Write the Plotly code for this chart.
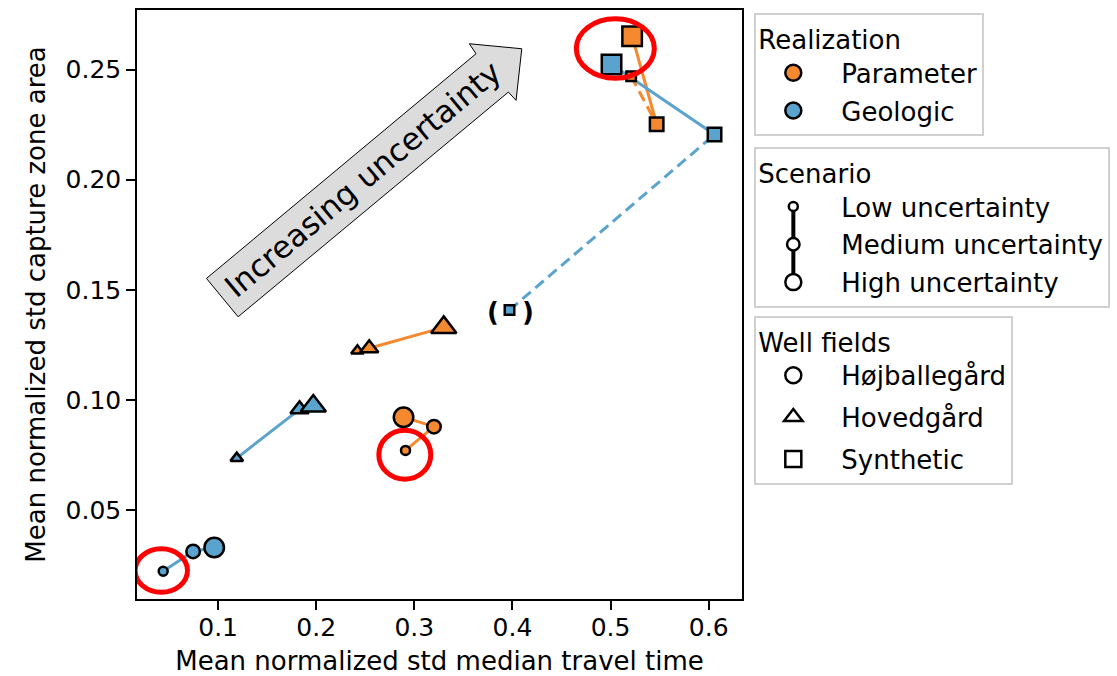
import math
import plotly.graph_objects as go

# ---------------- data ----------------
scenarios = ["Low uncertainty", "Medium uncertainty", "High uncertainty"]
realizations = ["Parameter", "Geologic"]
well_fields = ["Højballegård", "Hovedgård", "Synthetic"]

# values ordered low, medium, high uncertainty
param_hoj_x = [0.291, 0.320, 0.289]
param_hoj_y = [0.0770, 0.0878, 0.0921]
param_hov_x = [0.242, 0.254, 0.330]
param_hov_y = [0.1223, 0.1234, 0.1329]
param_syn_x = [0.521, 0.547, 0.522]
param_syn_y = [0.2470, 0.2252, 0.2652]

geo_hoj_x = [0.044, 0.0745, 0.096]
geo_hoj_y = [0.0221, 0.0311, 0.0329]
geo_hov_x = [0.119, 0.183, 0.197]
geo_hov_y = [0.0735, 0.0957, 0.0972]
geo_syn_x = [0.397, 0.606, 0.501]
geo_syn_y = [0.1408, 0.2205, 0.2523]

x_ticks = [0.1, 0.2, 0.3, 0.4, 0.5, 0.6]
y_ticks = [0.05, 0.10, 0.15, 0.20, 0.25]
y_ticktext = ["0.05", "0.10", "0.15", "0.20", "0.25"]

# ---------------- style ----------------
FONT = "DejaVu Sans"
ORANGE = "#F4892F"
BLUE = "#5BA3CF"
EDGE = 2.5
sym = {"Højballegård": "circle", "Hovedgård": "triangle-up", "Synthetic": "square"}
sizes = {"circle": [9, 13.5, 19.5], "square": [9.5, 13.5, 19.5], "triangle-up": [11, 16, 22]}

series = [
    ("Parameter", "Højballegård", param_hoj_x, param_hoj_y, ORANGE),
    ("Parameter", "Hovedgård", param_hov_x, param_hov_y, ORANGE),
    ("Parameter", "Synthetic", param_syn_x, param_syn_y, ORANGE),
    ("Geologic", "Højballegård", geo_hoj_x, geo_hoj_y, BLUE),
    ("Geologic", "Hovedgård", geo_hov_x, geo_hov_y, BLUE),
    ("Geologic", "Synthetic", geo_syn_x, geo_syn_y, BLUE),
]

fig = go.Figure()

# connecting lines first
for real, wf, xs, ys, col in series:
    if wf == "Synthetic":
        fig.add_trace(go.Scatter(x=xs[:2], y=ys[:2], mode="lines",
                                 line=dict(color=col, width=3, dash="11px,6px"),
                                 showlegend=False, hoverinfo="skip"))
        fig.add_trace(go.Scatter(x=xs[1:], y=ys[1:], mode="lines",
                                 line=dict(color=col, width=3),
                                 showlegend=False, hoverinfo="skip"))
    else:
        fig.add_trace(go.Scatter(x=xs, y=ys, mode="lines",
                                 line=dict(color=col, width=3),
                                 showlegend=False, hoverinfo="skip"))

# markers
for real, wf, xs, ys, col in series:
    s = sym[wf]
    fig.add_trace(go.Scatter(x=xs, y=ys, mode="markers",
                             marker=dict(symbol=s, size=sizes[s], color=col, opacity=1,
                                         line=dict(color="black", width=EDGE)),
                             showlegend=False, name=f"{real} {wf}"))

# legend-only traces
for real, col in zip(realizations, [ORANGE, BLUE]):
    fig.add_trace(go.Scatter(x=[None], y=[None], mode="markers", name=real,
                             legend="legend", legendgroup=real,
                             marker=dict(symbol="circle", size=16, color=col, opacity=1,
                                         line=dict(color="black", width=EDGE))))
for sc, sz in zip(scenarios, [9, 12.5, 16]):
    fig.add_trace(go.Scatter(x=[None], y=[None], mode="markers", name=sc,
                             legend="legend2", legendgroup=sc,
                             marker=dict(symbol="circle", size=sz, color="white", opacity=1,
                                         line=dict(color="black", width=EDGE))))
for wf in well_fields:
    fig.add_trace(go.Scatter(x=[None], y=[None], mode="markers", name=wf,
                             legend="legend3", legendgroup=wf,
                             marker=dict(symbol=sym[wf], size=16, color="white", opacity=1,
                                         line=dict(color="black", width=EDGE))))

# ---------------- geometry helpers (decorations) ----------------
L, R, T, B = 137.3, 741.7, 9.5, 599.3
W, H = R - L, B - T


def paper(px, py):
    return (px - L) / W, (B - py) / H


# big "Increasing uncertainty" arrow
arrow_px = [(206.7, 278.3), (476.0, 53.3), (469.3, 43.3), (521.7, 48.3),
            (516.0, 100.0), (508.3, 91.7), (238.3, 316.7)]
pts = [paper(*p) for p in arrow_px]
path = "M " + " L ".join(f"{x:.5f},{y:.5f}" for x, y in pts) + " Z"
shapes = [dict(type="path", xref="paper", yref="paper", path=path,
               fillcolor="#dcdcdc", line=dict(color="black", width=1), layer="above")]

# red highlight ellipses anchored on data points (pixel offsets)
rings = [
    (geo_syn_x[2], geo_syn_y[2], -35.2, 42.8, -13.7, 45.8),
    (param_hoj_x[0], param_hoj_y[0], -26.7, 25.3, -28.8, 20.2),
    (geo_hoj_x[0], geo_hoj_y[0], -28.1, 24.3, -21.0, 22.4),
]
for xa, ya, x0, x1, y0, y1 in rings:
    shapes.append(dict(type="circle", xref="x", yref="y", xsizemode="pixel", ysizemode="pixel",
                       xanchor=xa, yanchor=ya, x0=x0, x1=x1, y0=y0, y1=y1,
                       line=dict(color="red", width=5), layer="above"))

# vertical connector in the Scenario legend
lx0, ly0 = paper(793, 208)
lx1, ly1 = paper(793, 282)
shapes.append(dict(type="line", xref="paper", yref="paper", x0=lx0, y0=ly0, x1=lx1, y1=ly1,
                   line=dict(color="black", width=4), layer="above"))

ax, ay = paper(363, 179)
angle = math.degrees(math.atan2(225, 269.3))
annotations = [
    dict(xref="paper", yref="paper", x=ax, y=ay, text="Increasing uncertainty",
         textangle=-angle, showarrow=False, font=dict(family=FONT, size=31, color="black"),
         xanchor="center", yanchor="middle"),
    dict(xref="x", yref="y", x=geo_syn_x[0], y=geo_syn_y[0], text="<b>(</b>", xshift=-17, yshift=-2,
         showarrow=False, font=dict(family=FONT, size=26, color="black")),
    dict(xref="x", yref="y", x=geo_syn_x[0], y=geo_syn_y[0], text="<b>)</b>", xshift=18, yshift=-2,
         showarrow=False, font=dict(family=FONT, size=26, color="black")),
]

leg_common = dict(xanchor="left", yanchor="top", bordercolor="#d0d0d0", borderwidth=2,
                  font=dict(family=FONT, size=26, color="black"),
                  itemwidth=86, indentation=-11,
                  itemclick=False, itemdoubleclick=False)


def leg_title(txt):
    return dict(text=txt, font=dict(family=FONT, size=26, color="black"))


lx, _ = paper(754, 0)

fig.update_layout(
    width=1117, height=676,
    margin=dict(l=L, r=1117 - R, t=T, b=676 - B, pad=0, autoexpand=False),
    paper_bgcolor="white", plot_bgcolor="white",
    font=dict(family=FONT, size=25, color="black"),
    shapes=shapes, annotations=annotations,
    legend=dict(x=lx, y=paper(0, 13)[1], bgcolor="white", title=leg_title("Realization"),
                tracegroupgap=1, **leg_common),
    legend2=dict(x=lx, y=paper(0, 147)[1], bgcolor="rgba(0,0,0,0)", title=leg_title("Scenario"),
                 tracegroupgap=1, **leg_common),
    legend3=dict(x=lx, y=paper(0, 316)[1], bgcolor="white", title=leg_title("Well fields"),
                 tracegroupgap=5, **leg_common),
    xaxis=dict(range=[0.0173, 0.634], tickvals=x_ticks, ticktext=[str(v) for v in x_ticks],
               showgrid=False, zeroline=False, showline=True, linecolor="black", linewidth=1.5,
               mirror=True, ticks="outside", ticklen=9, tickwidth=1.5, tickcolor="black",
               tickfont=dict(size=25), ticklabelstandoff=-4,
               title=dict(text="Mean normalized std median travel time", font=dict(size=26), standoff=26)),
    yaxis=dict(range=[0.0095, 0.2771], tickvals=y_ticks, ticktext=y_ticktext,
               showgrid=False, zeroline=False, showline=True, linecolor="black", linewidth=1.5,
               mirror=True, ticks="outside", ticklen=9, tickwidth=1.5, tickcolor="black",
               tickfont=dict(size=25),
               title=dict(text="Mean normalized std capture zone area", font=dict(size=26), standoff=12)),
)

fig.write_html("out.html")
